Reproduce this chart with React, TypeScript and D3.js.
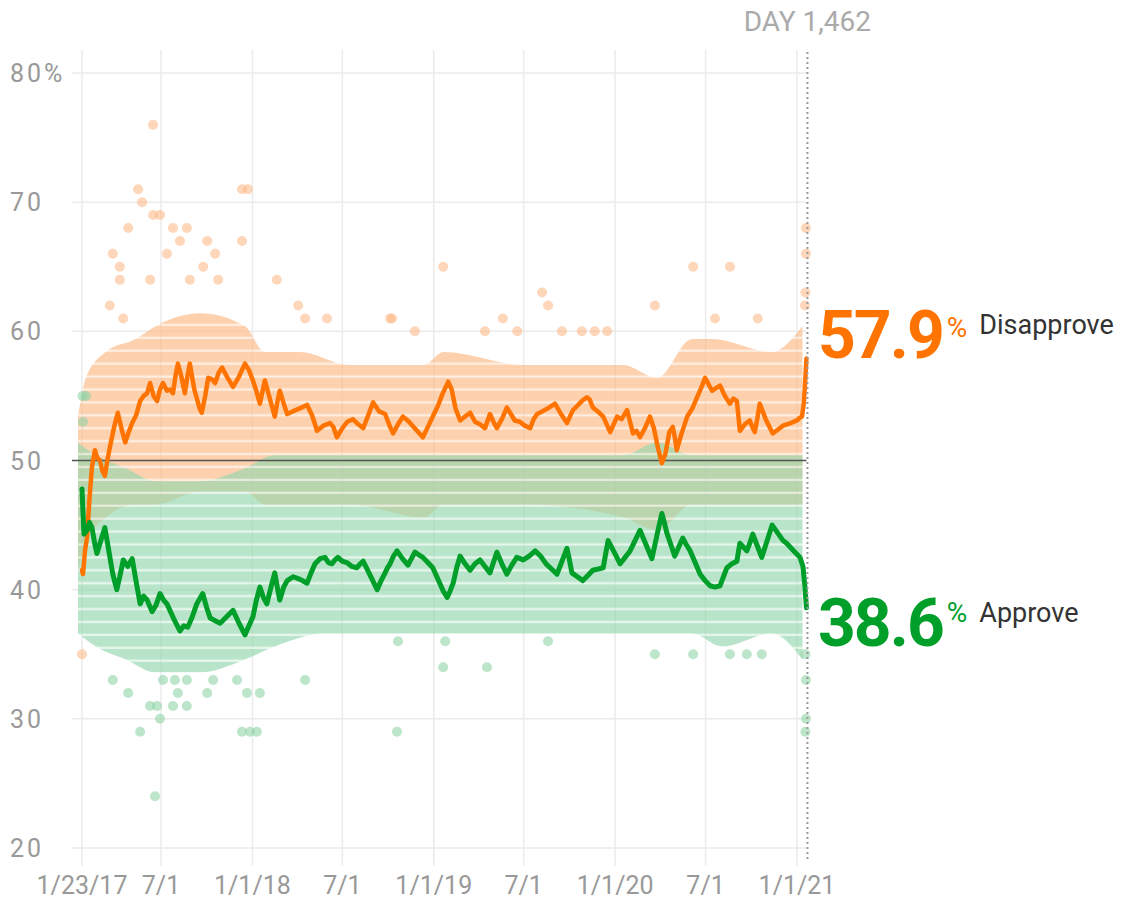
import React from "react";
import * as d3 from "d3";

// ---- DATA (day of presidency, value %) ----
const disapproveTrend: [number, number][] = [
  [4,41.5],[6,41.2],[10,43],[14,44],[19,47],[24,49.5],[30,50.8],[35,50.2],[40,50],[45,49.2],[50,48.8],[55,50],[60,51],[68,52.5],[76,53.7],[84,52.4],[91,51.4],[98,52.2],[105,52.9],[113,53.5],[121,54.6],[128,55],[135,55.2],[141,56],[148,55],[155,54.6],[161,55.5],[167,56],[175,55.4],[181,55.5],[187,55.2],[192,56.5],[197,57.5],[204,56.5],[211,55.2],[216,56.5],[221,57.5],[230,55.5],[241,54],[245,53.7],[252,55],[258,56.4],[265,56.3],[272,56],[279,56.8],[286,57.2],[297,56.4],[308,55.7],[320,56.5],[332,57.5],[340,57],[346,56.4],[354,55.5],[362,54.4],[368,55.5],[372,56.2],[382,54.8],[392,53.4],[397,54.5],[402,55.4],[410,54.4],[417,53.6],[428,53.8],[440,54],[457,54.3],[467,53.5],[477,52.3],[490,52.7],[503,52.9],[510,52.6],[517,51.8],[528,52.5],[538,53],[549,53.2],[560,52.8],[570,52.5],[580,53.5],[590,54.5],[602,53.8],[614,53.6],[624,52.6],[630,52.1],[640,52.8],[650,53.4],[662,53],[676,52.4],[690,51.8],[700,52.6],[710,53.4],[720,54.2],[730,55.2],[741,56.1],[748,55.5],[756,54],[765,53.1],[775,53.4],[785,53.7],[795,53],[805,52.8],[815,52.5],[825,53.6],[832,53],[839,52.5],[849,53.2],[859,54.1],[867,53.6],[875,53.1],[885,53],[895,52.7],[906,52.5],[913,53.2],[920,53.6],[930,53.8],[940,54],[956,54.4],[968,53.6],[980,52.9],[986,53.4],[992,53.9],[1000,54.2],[1010,54.6],[1020,54.9],[1026,54.7],[1032,54.1],[1042,53.8],[1053,53.4],[1060,52.8],[1067,52.2],[1074,52.8],[1081,53.4],[1090,53.2],[1101,53.9],[1107,53],[1113,52.1],[1120,52.3],[1127,51.8],[1137,52.5],[1147,53.4],[1155,52.5],[1163,51],[1171,49.8],[1178,50.5],[1186,52.2],[1193,52.6],[1197,51.8],[1201,50.8],[1210,52],[1222,53.4],[1232,54],[1242,54.9],[1250,55.6],[1258,56.4],[1265,55.9],[1272,55.4],[1280,55.6],[1288,55.8],[1298,55],[1308,54.4],[1315,54.8],[1322,54.6],[1328,52.3],[1338,52.8],[1348,53.1],[1353,52.6],[1358,52.2],[1363,53.2],[1368,54.4],[1380,53.2],[1394,52.1],[1405,52.4],[1415,52.7],[1430,52.9],[1443,53.1],[1448,53.3],[1453,53.4],[1457,54.5],[1460,56.5],[1462,57.9]
];

const approveTrend: [number, number][] = [
  [4,47.8],[6,46],[8,44.3],[14,44.6],[19,45.2],[24,44.8],[30,43.5],[34,42.8],[42,43.8],[50,44.8],[58,43],[66,41.2],[74,40],[80,41],[87,42.3],[96,41.8],[105,42.4],[113,40.6],[121,38.9],[128,39.5],[135,39.2],[145,38.3],[153,38.8],[161,39.7],[168,39.2],[175,38.9],[188,37.8],[201,36.8],[209,37.2],[217,37.1],[226,37.9],[235,38.9],[247,39.7],[255,38.6],[262,37.8],[272,37.6],[282,37.4],[295,37.9],[308,38.4],[320,37.4],[332,36.5],[340,37.2],[348,37.9],[355,39.2],[362,40.2],[369,39.4],[376,38.9],[385,40.3],[392,41.3],[397,40.2],[402,39.2],[410,40.2],[417,40.7],[429,41],[443,40.8],[457,40.5],[465,41.3],[473,42],[483,42.4],[493,42.5],[500,42.1],[507,42],[513,42.3],[519,42.5],[528,42.2],[537,42.1],[547,41.8],[557,41.7],[564,42],[570,42.2],[584,41.1],[598,40],[606,40.7],[614,41.3],[619,41.7],[624,42],[631,42.6],[638,43],[649,42.4],[660,41.9],[667,42.4],[674,42.9],[682,42.7],[690,42.5],[700,42.1],[710,41.7],[717,41.1],[724,40.5],[731,39.9],[739,39.4],[745,39.9],[751,40.5],[758,41.7],[765,42.6],[775,42],[785,41.5],[795,42],[805,42.3],[815,41.8],[825,41.3],[832,42.1],[839,42.9],[849,42],[859,41.2],[869,41.9],[879,42.5],[886,42.4],[892,42.3],[904,42.6],[916,43],[927,42.6],[938,42],[949,41.6],[960,41.2],[970,42.2],[980,43.2],[985,42.3],[990,41.3],[1001,41],[1012,40.7],[1022,41.1],[1032,41.5],[1043,41.6],[1053,41.7],[1058,42.8],[1063,43.8],[1075,42.9],[1087,42],[1097,42.5],[1107,43],[1117,43.8],[1127,44.6],[1139,43.5],[1151,42.4],[1161,44.2],[1171,45.9],[1176,45.2],[1181,44.4],[1189,43.5],[1197,42.6],[1205,43.3],[1213,44],[1220,43.5],[1228,43],[1238,42.1],[1248,41.2],[1258,40.7],[1268,40.3],[1278,40.2],[1288,40.3],[1295,41],[1302,41.7],[1312,42],[1322,42.2],[1328,43.6],[1335,43.3],[1342,43],[1348,43.6],[1354,44.3],[1363,43.4],[1372,42.5],[1383,43.8],[1393,45],[1404,44.4],[1415,43.8],[1422,43.6],[1429,43.3],[1439,42.9],[1449,42.5],[1455,41.8],[1459,40.2],[1462,38.6]
];

// dense poll clouds: [day, low, high]
const disapproveCloud: [number, number, number][] = [
  [4,42,53],[20,44,56],[60,46,58],[120,47,59],[160,47,60],[250,48,61],[340,48,60],[380,47,58],[450,47,58],[550,47,57],[700,46,57],[740,47,58],[900,47,57],[1100,46,57],[1170,45,56],[1240,47,59],[1280,47,59],[1400,47,58],[1462,47,60]
];
const approveCloud: [number, number, number][] = [
  [4,37,51],[40,36,50],[100,35,49],[160,34,48],[250,34,48],[340,35,49],[400,36,50],[500,37,50],[700,37,50],[900,37,50],[1100,37,50],[1170,37,51],[1240,37,50],[1300,36,50],[1400,37,50],[1462,35,50]
];

// individual outlying polls: [day, value]
const disapproveOutliers: [number, number][] = [
  [147,76],[117,71],[125,70],[326,71],[338,71],[147,69],[161,69],[97,68],[187,68],[215,68],[201,67],[256,67],[326,67],[66,66],[175,66],[272,66],[80,65],[248,65],[80,64],[141,64],[221,64],[278,64],[396,64],[60,62],[439,62],[87,61],[453,61],[497,61],[624,61],[731,65],[930,63],[942,62],[851,61],[1157,62],[1234,65],[1308,65],[674,60],[815,60],[880,60],[970,60],[1010,60],[1036,60],[1061,60],[628,61],[1278,61],[1364,61],[4,35],[1461,68],[1461,66],[1460,63],[1459,62]
];
const approveOutliers: [number, number][] = [
  [151,24],[121,29],[326,29],[342,29],[356,29],[161,30],[141,31],[155,31],[187,31],[215,31],[97,32],[197,32],[256,32],[336,32],[362,32],[66,33],[167,33],[191,33],[215,33],[268,33],[316,33],[453,33],[638,29],[731,34],[819,34],[640,36],[735,36],[942,36],[1157,35],[1234,35],[1308,35],[1342,35],[1372,35],[1461,33],[1461,30],[1460,29],[1460,35],[5,55],[12,55],[6,53]
];

const xTickDates = ["2017-01-23","2017-07-01","2018-01-01","2018-07-01","2019-01-01","2019-07-01","2020-01-01","2020-07-01","2021-01-01"];
const xTickLabels = ["1/23/17","7/1","1/1/18","7/1","1/1/19","7/1","1/1/20","7/1","1/1/21"];
const yTicks = [20,30,40,50,60,70,80];

const finalDay = 1462;
const finalDisapprove = 57.9;
const finalApprove = 38.6;

// ---- CHART ----
const ORANGE = "#ff7400";
const GREEN = "#009f29";
const FONT = "Roboto, 'Helvetica Neue', Arial, sans-serif";

const parse = (s: string) => {
  const [y, m, d] = s.split("-").map(Number);
  return new Date(y, m - 1, d);
};
const dayToDate = (day: number) => d3.timeDay.offset(new Date(2017, 0, 20), day - 1);

export default function App() {
  const x = d3.scaleTime().domain([new Date(2017, 0, 23), new Date(2021, 0, 1)]).range([82, 797]);
  const y = d3.scaleLinear().domain([20, 80]).range([848, 73]);
  const xd = (day: number) => x(dayToDate(day));
  const endX = xd(finalDay);

  const line = d3.line<[number, number]>().x(d => xd(d[0])).y(d => y(d[1])).curve(d3.curveLinear);
  const area = d3.area<[number, number, number]>()
    .x(d => xd(d[0]))
    .y0(d => y(d[1] - 0.4))
    .y1(d => y(d[2] + 0.4))
    .curve(d3.curveMonotoneX);

  const rowH = y(49) - y(50);
  const barH = rowH * 0.82;

  return (
    <svg width={1126} height={909} style={{ position: "absolute", left: 0, top: 0, display: "block", background: "#fff" }}>
      <defs>
        <pattern id="rowsO" patternUnits="userSpaceOnUse" x={0} y={y(50) - barH / 2} width={10} height={rowH}>
          <rect x={0} y={0} width={10} height={barH} fill="#fcb27a" />
        </pattern>
        <pattern id="rowsG" patternUnits="userSpaceOnUse" x={0} y={y(50) - barH / 2} width={10} height={rowH}>
          <rect x={0} y={0} width={10} height={barH} fill="#7fcf9c" />
        </pattern>
      </defs>

      {/* grid */}
      {yTicks.map(t => (
        <line key={"gy" + t} x1={72} x2={endX} y1={y(t)} y2={y(t)} stroke="#ebebeb" strokeWidth={1.5} />
      ))}
      {xTickDates.map((s, i) => (
        <line key={"gx" + i} x1={x(parse(s))} x2={x(parse(s))} y1={50} y2={866} stroke="#ebebeb" strokeWidth={1.5} />
      ))}

      {/* poll clouds */}
      <g transform="translate(-4,0)">
        <path d={area(disapproveCloud) || ""} fill="#fdd4b4" opacity={0.4} />
        <path d={area(disapproveCloud) || ""} fill="url(#rowsO)" opacity={0.5} />
      </g>
      <g transform="translate(-4,0)">
        <path d={area(approveCloud) || ""} fill="#c4e9d1" opacity={0.4} />
        <path d={area(approveCloud) || ""} fill="url(#rowsG)" opacity={0.45} />
      </g>

      {approveOutliers.map((d, i) => (
        <circle key={"ao" + i} cx={xd(d[0])} cy={y(d[1])} r={5} fill="#8fd4a6" opacity={0.6} />
      ))}
      {disapproveOutliers.map((d, i) => (
        <circle key={"do" + i} cx={xd(d[0])} cy={y(d[1])} r={5} fill="#fdbb8a" opacity={0.6} />
      ))}

      {/* 50% line */}
      <line x1={72} x2={endX} y1={y(50)} y2={y(50)} stroke="#555" strokeWidth={1.5} />

      {/* trend lines */}
      <path d={line(disapproveTrend) || ""} fill="none" stroke={ORANGE} strokeWidth={4.5} strokeLinejoin="round" strokeLinecap="round" />
      <path d={line(approveTrend) || ""} fill="none" stroke={GREEN} strokeWidth={5} strokeLinejoin="round" strokeLinecap="round" />

      {/* current day marker */}
      <line x1={endX + 1} x2={endX + 1} y1={52} y2={862} stroke="#999" strokeWidth={2} strokeDasharray="2,3" />
      <text x={endX + 1} y={31} textAnchor="middle" fontFamily={FONT} fontSize={28} fill="#aaa">DAY 1,462</text>

      {/* axes labels */}
      {yTicks.map(t => (
        <text key={"yl" + t} x={10} y={y(t)} dy="0.36em" fontFamily={FONT} fontSize={25} letterSpacing={3} fill="#999">
          {t === 80 ? "80%" : String(t)}
        </text>
      ))}
      {xTickDates.map((s, i) => (
        <text key={"xl" + i} x={x(parse(s))} y={894} textAnchor="middle" fontFamily={FONT} fontSize={25} fill="#999">
          {xTickLabels[i]}
        </text>
      ))}

      {/* end labels */}
      <text x={818} y={y(finalDisapprove)} fontFamily={FONT}>
        <tspan fontSize={66} fontWeight={700} fill={ORANGE} letterSpacing={-2}>{finalDisapprove.toFixed(1)}</tspan>
        <tspan fontSize={28} fill={ORANGE} dx={4} dy={-21}>%</tspan>
        <tspan fontSize={27} fill="#333" dx={12} dy={-3}>Disapprove</tspan>
      </text>
      <text x={818} y={y(finalApprove) + 38} fontFamily={FONT}>
        <tspan fontSize={66} fontWeight={700} fill={GREEN} letterSpacing={-2}>{finalApprove.toFixed(1)}</tspan>
        <tspan fontSize={28} fill={GREEN} dx={4} dy={-24}>%</tspan>
        <tspan fontSize={27} fill="#333" dx={12} dy={0}>Approve</tspan>
      </text>
    </svg>
  );
}
